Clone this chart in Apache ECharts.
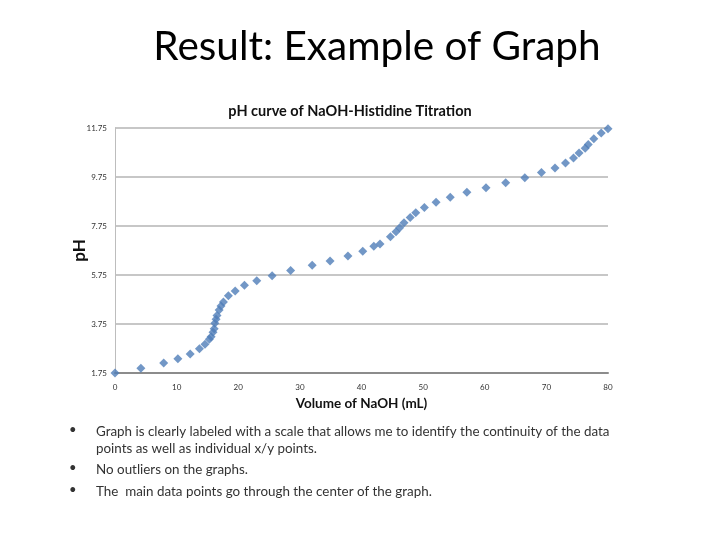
<!DOCTYPE html>
<html><head><meta charset="utf-8">
<script src="https://cdn.jsdelivr.net/npm/echarts@6/dist/echarts.min.js"></script>
<style>html,body{margin:0;padding:0;background:#fff}#c{width:720px;height:540px}</style>
</head><body><div id="c"></div>
<script>
const volume = [0, 4.2, 7.9, 10.2, 12.2, 13.7, 14.6, 15.3, 15.6, 15.9, 16.1, 16.2, 16.4, 16.55, 16.9, 17.2, 17.6, 18.4, 19.5, 21.0, 23.0, 25.5, 28.5, 32.0, 34.9, 37.8, 40.2, 42.0, 43.0, 44.7, 45.6, 46.2, 46.9, 47.9, 48.8, 50.2, 52.1, 54.4, 57.1, 60.2, 63.4, 66.5, 69.2, 71.4, 73.1, 74.4, 75.3, 76.3, 76.8, 77.7, 78.9, 80];
const ph = [1.75, 1.94, 2.16, 2.33, 2.53, 2.74, 2.92, 3.13, 3.23, 3.41, 3.56, 3.78, 3.94, 4.10, 4.32, 4.48, 4.65, 4.90, 5.10, 5.33, 5.52, 5.72, 5.93, 6.15, 6.32, 6.53, 6.72, 6.92, 7.02, 7.31, 7.52, 7.68, 7.88, 8.10, 8.29, 8.51, 8.72, 8.92, 9.13, 9.31, 9.52, 9.72, 9.93, 10.12, 10.32, 10.53, 10.73, 10.92, 11.08, 11.31, 11.55, 11.72];
const yTicks = [1.75, 3.75, 5.75, 7.75, 9.75, 11.75];
const pageTitle = 'Result: Example of Graph';
const chartTitle = 'pH curve of NaOH-Histidine Titration';
const xName = 'Volume of NaOH (mL)';
const yName = 'pH';
const bullets = [
  'Graph is clearly labeled with a scale that allows me to identify the continuity of the data\npoints as well as individual x/y points.',
  'No outliers on the graphs.',
  'The  main data points go through the center of the graph.'
];

const pts = volume.map((v, i) => [v, ph[i]]);
const FONT = 'Lato, "Open Sans", sans-serif';
const bulletTops = [423, 461, 483];
const graphics = [];
bullets.forEach((t, i) => {
  graphics.push({type: 'text', left: 69, top: bulletTops[i], style: {text: '•', font: '13px ' + FONT, fill: '#333'}});
  graphics.push({type: 'text', left: 96, top: bulletTops[i], style: {text: t, font: '13.4px ' + FONT, fill: '#333', lineHeight: 17}});
});

const chart = echarts.init(document.getElementById('c'));
chart.setOption({
  animation: false,
  backgroundColor: '#fff',
  title: [
    {text: pageTitle, left: 372, top: 21, textAlign: 'center',
     textStyle: {fontFamily: FONT, fontSize: 40.5, fontWeight: 'normal', color: '#000'}},
    {text: chartTitle, left: 345, top: 99, textAlign: 'center',
     textStyle: {fontFamily: FONT, fontSize: 14.5, fontWeight: 'bold', color: '#111'}}
  ],
  grid: {left: 115, right: 112, top: 128, bottom: 167},
  xAxis: {
    type: 'value', min: 0, max: 80, interval: 10,
    name: xName, nameLocation: 'middle', nameGap: 24,
    nameTextStyle: {fontFamily: FONT, fontSize: 13.5, fontWeight: 'bold', color: '#111'},
    axisLine: {show: true, lineStyle: {color: '#8c8c8c', width: 2}},
    axisTick: {show: false},
    splitLine: {show: false},
    axisLabel: {fontFamily: FONT, fontSize: 8, color: '#333', margin: 10}
  },
  yAxis: {
    type: 'value', min: 1.75, max: 11.75,
    name: yName, nameLocation: 'middle', nameGap: 27, nameMoveOverlap: false,
    nameTextStyle: {fontFamily: FONT, fontSize: 17, fontWeight: 'bold', color: '#111'},
    axisLine: {show: true, lineStyle: {color: '#bdbdbd', width: 1}},
    axisTick: {show: false, customValues: yTicks},
    axisLabel: {fontFamily: FONT, fontSize: 8, color: '#333', margin: 8, customValues: yTicks},
    splitLine: {show: true, lineStyle: {color: '#b4b4b4', width: 1.5}}
  },
  series: [{
    type: 'scatter', data: pts, symbol: 'diamond', symbolSize: 9, clip: false,
    itemStyle: {color: '#4f7db8'}
  }],
  graphic: graphics
});
</script></body></html>
